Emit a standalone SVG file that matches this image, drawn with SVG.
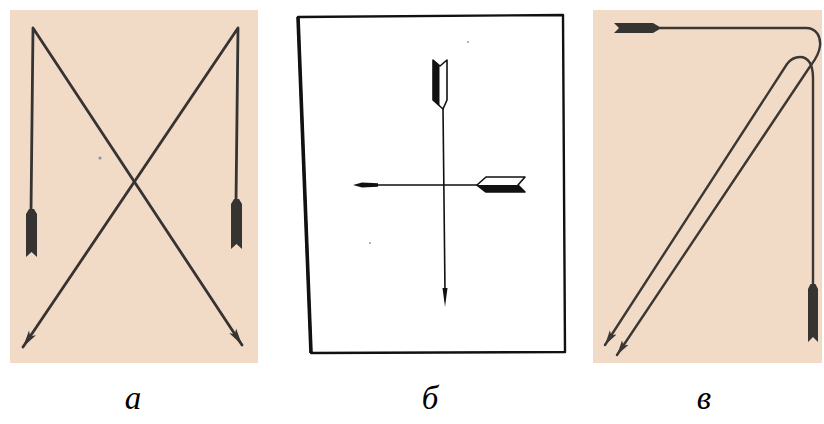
<svg xmlns="http://www.w3.org/2000/svg" width="824" height="424" viewBox="0 0 824 424">
<style>
.paper{fill:#f2dbc6}
.shaft{fill:none;stroke:#363432;stroke-width:2.8;stroke-linecap:round;stroke-linejoin:round}
.shaftv{fill:none;stroke:#3a3734;stroke-width:2.4;stroke-linecap:round;stroke-linejoin:round}
.fletch{fill:#363432}
.ink{fill:#111}
.thin{fill:none;stroke:#111;stroke-width:1.6;stroke-linecap:round}
.frame{fill:#fff;stroke:#111;stroke-linejoin:round}
.label{font-family:"Liberation Serif","Times New Roman",serif;font-style:italic;font-size:33px;fill:#000;text-anchor:middle}
</style>
<defs>
<marker id="headA" viewBox="0 0 18 10" refX="17" refY="5" markerWidth="18" markerHeight="10" orient="auto" markerUnits="userSpaceOnUse">
<path d="M0,0.8 L17,5 L0,9.2 L4,5 Z" fill="#363432"/>
</marker>
<marker id="headV" viewBox="0 0 16 9" refX="15" refY="4.5" markerWidth="16" markerHeight="9" orient="auto" markerUnits="userSpaceOnUse">
<path d="M0,0.6 L15,4.5 L0,8.4 L3.5,4.5 Z" fill="#3a3734"/>
</marker>
</defs>
<rect width="824" height="424" fill="#fff"/>

<g id="panel-a">
<rect class="paper" x="10" y="10" width="248" height="353"/>
<circle cx="100" cy="158" r="1.6" fill="#6a6f9a" opacity="0.7"/>
</g>
<g id="panel-b">
<path class="frame" d="M298,17 L563,15 L565,352 L311,353 Z" stroke-width="2.4"/>
<path d="M298,17 L311,353" stroke="#111" stroke-width="3.6" fill="none"/>
<circle cx="468" cy="42" r="1" fill="#999"/>
<circle cx="370" cy="243" r="1" fill="#999"/>
</g>
<g id="panel-v">
<rect class="paper" x="593" y="10" width="229" height="353"/>
</g>

<g id="connectors">
<!-- panel a -->
<path class="shaft" d="M31,212 L33,28 L242,345" marker-end="url(#headA)"/>
<path class="shaft" d="M236,202 L238,28 L23,347" marker-end="url(#headA)"/>
<path class="fletch" d="M29,209 L34,209 L37,214 L37,257 L31.5,252 L26,257 L26,214 Z"/>
<path class="fletch" d="M234,199 L239,199 L242,204 L242,249 L236.5,244 L231,249 L231,204 Z"/>

<!-- panel b -->
<path class="thin" d="M443,108 L445,292"/>
<path class="ink" d="M442.5,288 L447.5,288 L445,307 Z"/>
<path d="M433,60 L440,66 L447,60 L447,100 L443,109 L433,100 Z" fill="#fff" stroke="#111" stroke-width="1.6" stroke-linejoin="round"/>
<path class="ink" d="M433,60 L439.5,66 L439.5,106 L433,100 Z"/>
<path class="thin" d="M377,185 L477,185"/>
<path class="ink" d="M353,185 L362,182.5 L378,183.2 L378,186.8 L362,187.5 Z"/>
<path d="M477,185 L486,177 L525,177 L518,185 L525,192 L486,192 Z" fill="#fff" stroke="#111" stroke-width="1.6" stroke-linejoin="round"/>
<path class="ink" d="M477,185 L518,185 L525,192 L486,192 Z"/>

<!-- panel v -->
<path class="shaftv" d="M655,28 L806,28 C816,28 821,36 820,46 C819,56 813,62 809,68 L617,355" marker-end="url(#headV)"/>
<path class="shaftv" d="M813,290 L813,78 C813,64 808,57 800,57 C794,57 790,60 787,64 L605,345" marker-end="url(#headV)"/>
<path class="fletch" d="M614,23 L653,23 L659,26.5 L659,29.5 L653,33 L614,33 L619,28 Z"/>
<path class="fletch" d="M810.5,284 L815.5,284 L818,289 L818,342 L813,337 L808,342 L808,289 Z"/>
</g>

<g id="labels">
<text class="label" x="133" y="409">а</text>
<text class="label" x="430" y="409">б</text>
<text class="label" x="704" y="409">в</text>
</g>
</svg>
